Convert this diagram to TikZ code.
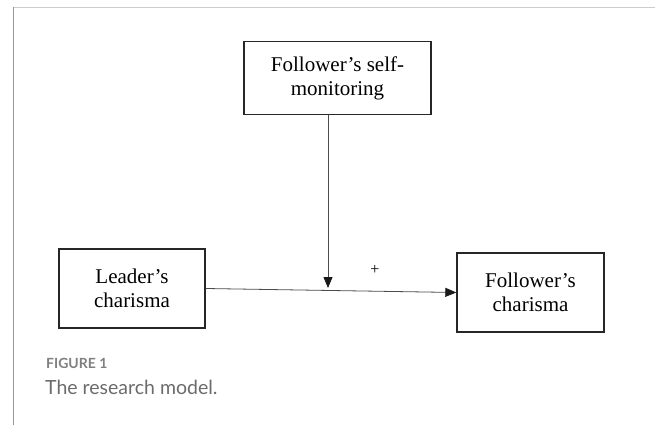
\documentclass[tikz,border=0pt]{standalone}
\usepackage{fontspec}
\setmainfont{Liberation Serif}
\newfontfamily\capfont{Lato}
\usetikzlibrary{arrows.meta}

\begin{document}
\begin{tikzpicture}[x=1pt, y=-1pt,
  box/.style={draw=black!85, line width=1.4pt, align=center, inner sep=0pt,
    font=\fontsize{21}{24}\selectfont},
  link/.style={draw=black!70, line width=0.8pt, -{Triangle[length=11pt,width=9pt,color=black!90]}},
  caption/.style={anchor=west, inner sep=0pt}]
  \useasboundingbox (0,0) rectangle (655,425);

  % Frame
  \draw[black!20, line width=1.8pt] (13,7.5) -- (655,7.5);
  \draw[black!40, line width=1pt] (13,7.5) -- (13,425);

  % Boxes
  \node[box, minimum width=187pt, minimum height=73pt] (monitor) at (337.5,78) {Follower’s self-\\monitoring};
  \node[box, minimum width=146pt, minimum height=79pt] (leader) at (132,288.5) {Leader’s\\charisma};
  \node[box, minimum width=147pt, minimum height=79pt] (follower) at (530.5,292.5) {Follower’s\\charisma};

  % Paths
  \draw[link] (leader.east) -- (follower.west);
  \coordinate (mod) at (328,288);
  \draw[link] (monitor.south -| mod) -- (mod);
  \node[font=\fontsize{16}{18}\selectfont] (plus) at (375,270) {+};

  % Caption
  \node[caption, text=black!50, font=\capfont\bfseries\fontsize{14}{16}\selectfont] (fig) at (46,363) {FIGURE 1};
  \node[caption, text=black!58, font=\capfont\fontsize{19.5}{22}\selectfont] (cap) at (45,387) {The research model.};
\end{tikzpicture}
\end{document}
